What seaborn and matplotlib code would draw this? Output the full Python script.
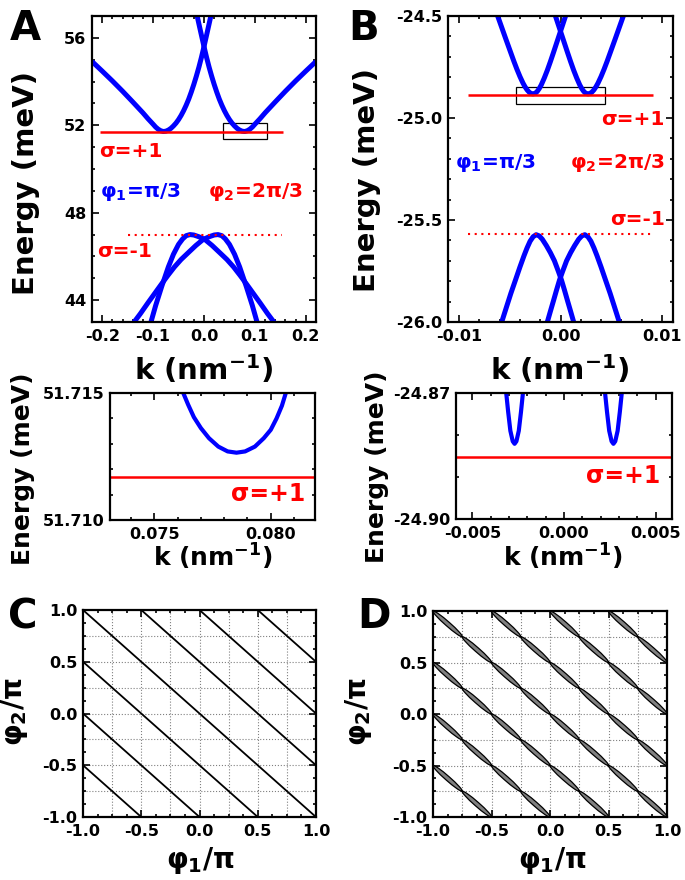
import matplotlib
matplotlib.use("Agg")
import numpy as np
import matplotlib.pyplot as plt
import seaborn as sns
from matplotlib.patches import Rectangle, Ellipse
from matplotlib.ticker import MultipleLocator

# ---------------- data ----------------
# panel A, main (k in nm^-1, E in meV)
kA_up1 = [-0.220, -0.200, -0.180, -0.160, -0.140, -0.120, -0.110, -0.100, -0.095, -0.090,
          -0.085, -0.080, -0.075, -0.070, -0.065, -0.060, -0.055, -0.050, -0.045, -0.040,
          -0.035, -0.030, -0.025, -0.020, -0.015, -0.010, -0.005, 0.000, 0.006, 0.0125, 0.016]
EA_up1 = [54.92, 54.48, 54.03, 53.56, 53.07, 52.57, 52.30, 52.05, 51.92, 51.82,
          51.75, 51.715, 51.73, 51.78, 51.86, 51.97, 52.10, 52.26, 52.45, 52.67,
          52.92, 53.20, 53.52, 53.87, 54.25, 54.66, 55.11, 55.60, 56.22, 56.90, 57.30]
kA_up2 = [-0.016, -0.0125, -0.006, 0.000, 0.005, 0.010, 0.015, 0.020, 0.025, 0.030, 0.035,
          0.040, 0.045, 0.050, 0.055, 0.060, 0.065, 0.070, 0.075, 0.080, 0.085,
          0.090, 0.095, 0.100, 0.110, 0.120, 0.140, 0.160, 0.180, 0.200, 0.220]
EA_up2 = [57.30, 56.90, 56.22, 55.60, 55.11, 54.66, 54.25, 53.87, 53.52, 53.20, 52.92,
          52.67, 52.45, 52.26, 52.10, 51.97, 51.86, 51.78, 51.73, 51.715, 51.75,
          51.82, 51.92, 52.05, 52.30, 52.57, 53.07, 53.56, 54.03, 54.48, 54.92]
kA_lo1 = [-0.106, -0.095, -0.083, -0.070, -0.060, -0.050, -0.042, -0.035, -0.0275, -0.020,
          -0.010, 0.002, 0.016, 0.031, 0.045, 0.058, 0.071, 0.084, 0.097, 0.110,
          0.125, 0.142]
EA_lo1 = [42.85, 43.75, 44.63, 45.52, 46.10, 46.55, 46.80, 46.95, 47.00, 46.98,
          46.90, 46.77, 46.50, 46.17, 45.86, 45.52, 45.13, 44.72, 44.30, 43.88,
          43.38, 42.85]
kA_lo2 = [-0.142, -0.125, -0.110, -0.097, -0.084, -0.071, -0.058, -0.045, -0.031, -0.016,
          -0.002, 0.010, 0.020, 0.0275, 0.035, 0.042, 0.050, 0.060, 0.070, 0.083,
          0.095, 0.106]
EA_lo2 = [42.85, 43.38, 43.88, 44.30, 44.72, 45.13, 45.52, 45.86, 46.17, 46.50,
          46.77, 46.90, 46.98, 47.00, 46.95, 46.80, 46.55, 46.10, 45.52, 44.63,
          43.75, 42.85]
A_sigma_plus = 51.7117
A_sigma_plus_k = [-0.204, 0.155]
A_sigma_minus = 47.0
A_sigma_minus_k = [-0.149, 0.153]
A_box = [0.037, 51.39, 0.124, 52.12]   # k0, E0, k1, E1

# panel A, inset
kAi = [0.07620, 0.07645, 0.07670, 0.07700, 0.07735, 0.07775, 0.07815, 0.07853,
       0.07890, 0.07932, 0.07970, 0.08000, 0.08025, 0.08048, 0.08068]
EAi = [51.71510, 51.71455, 51.71405, 51.71362, 51.71322, 51.71289, 51.71270, 51.71265,
       51.71270, 51.71289, 51.71322, 51.71355, 51.71400, 51.71450, 51.71510]

# panel B, main
kB_up1 = [-0.0063, -0.0058, -0.0054, -0.0050, -0.0046, -0.0043, -0.0040, -0.0037, -0.0035,
          -0.0033, -0.0031, -0.0029, -0.0027, -0.0025, -0.0023, -0.0021, -0.0019, -0.0016,
          -0.0013, -0.0010, -0.0007, -0.0004, -0.0001, 0.0002, 0.0005, 0.0008]
EB_up1 = [-24.486, -24.556, -24.612, -24.667, -24.722, -24.761, -24.797, -24.829, -24.847,
          -24.862, -24.873, -24.880, -24.882, -24.879, -24.870, -24.856, -24.838, -24.804,
          -24.766, -24.724, -24.680, -24.635, -24.590, -24.545, -24.500, -24.455]
kB_up2 = [-0.0008, -0.0005, -0.0002, 0.0001, 0.0004, 0.0007, 0.0010, 0.0013, 0.0016, 0.0019,
          0.0021, 0.0023, 0.0025, 0.0027, 0.0029, 0.0031, 0.0033, 0.0035, 0.0037,
          0.0040, 0.0043, 0.0046, 0.0050, 0.0054, 0.0058, 0.0063]
EB_up2 = [-24.455, -24.500, -24.545, -24.590, -24.635, -24.680, -24.724, -24.766, -24.804,
          -24.838, -24.856, -24.870, -24.879, -24.882, -24.880, -24.873, -24.862, -24.847,
          -24.829, -24.797, -24.761, -24.722, -24.667, -24.612, -24.556, -24.486]
kB_lo1 = [-0.0058, -0.0053, -0.0049, -0.0044, -0.0040, -0.0036, -0.0033, -0.0030, -0.0027,
          -0.0024, -0.0021, -0.0018, -0.0014, -0.0010, -0.0006, -0.0002, 0.0001, 0.0004,
          0.0007, 0.0010, 0.0013]
EB_lo1 = [-26.000, -25.922, -25.860, -25.788, -25.730, -25.675, -25.637, -25.604, -25.582,
          -25.572, -25.578, -25.594, -25.625, -25.660, -25.700, -25.753, -25.795, -25.845,
          -25.897, -25.948, -26.000]
kB_lo2 = [-0.0013, -0.0010, -0.0007, -0.0004, -0.0001, 0.0002, 0.0006, 0.0010, 0.0014,
          0.0018, 0.0021, 0.0024, 0.0027, 0.0030, 0.0033, 0.0036, 0.0040, 0.0044,
          0.0049, 0.0053, 0.0058]
EB_lo2 = [-26.000, -25.948, -25.897, -25.845, -25.795, -25.753, -25.700, -25.660, -25.625,
          -25.594, -25.578, -25.572, -25.582, -25.604, -25.637, -25.675, -25.730, -25.788,
          -25.860, -25.922, -26.000]
B_sigma_plus = -24.886
B_sigma_minus = -25.570
B_line_k = [-0.0091, 0.0091]
B_box = [-0.0044, -24.933, 0.0044, -24.8465]

# panel B, inset
kBi1 = [-0.00318, -0.00305, -0.00293, -0.00280, -0.00270, -0.00260, -0.00247, -0.00235, -0.00222]
EBi1 = [-24.8690, -24.8745, -24.8790, -24.8815, -24.8821, -24.8815, -24.8790, -24.8745, -24.8690]
kBi2 = [0.00222, 0.00235, 0.00247, 0.00260, 0.00270, 0.00280, 0.00293, 0.00305, 0.00318]
EBi2 = [-24.8690, -24.8745, -24.8790, -24.8815, -24.8821, -24.8815, -24.8790, -24.8745, -24.8690]
Bi_sigma_plus = -24.8853

# panels C, D: phi1 + phi2 = const (units of pi)
line_offsets = [-1.5, -1.0, -0.5, 0.0, 0.5, 1.0, 1.5]
pinch_step = 0.25

# tick labels
A_xt = [-0.2, -0.1, 0.0, 0.1, 0.2]
A_xtl = ["-0.2", "-0.1", "0.0", "0.1", "0.2"]
A_yt = [44, 48, 52, 56]
A_ytl = ["44", "48", "52", "56"]
B_xt = [-0.01, 0.0, 0.01]
B_xtl = ["-0.01", "0.00", "0.01"]
B_yt = [-26.0, -25.5, -25.0, -24.5]
B_ytl = ["-26.0", "-25.5", "-25.0", "-24.5"]
Ai_xt = [0.075, 0.080]
Ai_xtl = ["0.075", "0.080"]
Ai_yt = [51.710, 51.715]
Ai_ytl = ["51.710", "51.715"]
Bi_xt = [-0.005, 0.0, 0.005]
Bi_xtl = ["-0.005", "0.000", "0.005"]
Bi_yt = [-24.90, -24.87]
Bi_ytl = ["-24.90", "-24.87"]
CD_t = [-1.0, -0.5, 0.0, 0.5, 1.0]
CD_tl = ["-1.0", "-0.5", "0.0", "0.5", "1.0"]

# ---------------- style ----------------
sns.set_style("ticks")
plt.rcParams.update({
    "font.family": ["DejaVu Sans"],
    "font.weight": "bold",
    "text.color": "black",
    "axes.labelcolor": "black",
    "axes.labelweight": "bold",
    "axes.unicode_minus": False,
    "mathtext.fontset": "dejavusans",
    "mathtext.default": "bf",
    "axes.linewidth": 1.6,
    "axes.edgecolor": "black",
    "xtick.color": "black",
    "ytick.color": "black",
    "xtick.labelsize": 11.5,
    "ytick.labelsize": 11.5,
})

W, H = 685, 880
fig = plt.figure(figsize=(W / 100, H / 100), dpi=100)


def add_ax(x0, y0, x1, y1):
    # pixel box -> figure fraction
    return fig.add_axes([x0 / W, 1 - y1 / H, (x1 - x0) / W, (y1 - y0) / H])


def ftext(px, py, s, **kw):
    fig.text(px / W, 1 - py / H, s, **kw)


def style(ax, xlim, ylim, xt, xtl, yt, ytl, xminor, yminor):
    ax.set_xlim(xlim)
    ax.set_ylim(ylim)
    ax.set_xticks(xt, xtl)
    ax.set_yticks(yt, ytl)
    ax.xaxis.set_minor_locator(MultipleLocator(xminor))
    ax.yaxis.set_minor_locator(MultipleLocator(yminor))
    ax.tick_params(which="both", direction="in", top=True, right=True, width=1.2)
    ax.tick_params(which="major", length=5)
    ax.tick_params(which="minor", length=2.5)
    ax.tick_params(axis="y", pad=4)
    ax.tick_params(axis="x", pad=5)


def curve(ax, k, E, lw):
    sns.lineplot(x=k, y=E, ax=ax, color="blue", lw=lw, sort=False, estimator=None,
                 solid_capstyle="butt", solid_joinstyle="round")


red_dot = (0, (1, 2.2))

# ---------------- A main ----------------
axA = add_ax(92, 16, 316, 322)
for k, E in [(kA_up1, EA_up1), (kA_up2, EA_up2), (kA_lo1, EA_lo1), (kA_lo2, EA_lo2)]:
    curve(axA, k, E, 3.6)
axA.hlines(A_sigma_plus, *A_sigma_plus_k, color="red", lw=1.8)
axA.hlines(A_sigma_minus, *A_sigma_minus_k, color="red", lw=1.5, linestyles=red_dot)
axA.add_patch(Rectangle((A_box[0], A_box[1]), A_box[2] - A_box[0], A_box[3] - A_box[1],
                        fill=False, ec="black", lw=0.9))
style(axA, (-0.22, 0.22), (43, 57), A_xt, A_xtl, A_yt, A_ytl, 0.02, 1)

# ---------------- B main ----------------
axB = add_ax(448, 16, 673, 322)
for k, E in [(kB_up1, EB_up1), (kB_up2, EB_up2), (kB_lo1, EB_lo1), (kB_lo2, EB_lo2)]:
    curve(axB, k, E, 3.6)
axB.hlines(B_sigma_plus, *B_line_k, color="red", lw=1.8)
axB.hlines(B_sigma_minus, *B_line_k, color="red", lw=1.5, linestyles=red_dot)
axB.add_patch(Rectangle((B_box[0], B_box[1]), B_box[2] - B_box[0], B_box[3] - B_box[1],
                        fill=False, ec="black", lw=0.9))
style(axB, (-0.0111, 0.0111), (-26.0, -24.5), B_xt, B_xtl, B_yt, B_ytl, 0.002, 0.1)

# ---------------- A inset ----------------
axAi = add_ax(110, 393, 315, 520)
curve(axAi, kAi, EAi, 3.0)
axAi.axhline(A_sigma_plus, color="red", lw=1.8)
style(axAi, (0.0731, 0.0819), (51.710, 51.715), Ai_xt, Ai_xtl, Ai_yt, Ai_ytl, 0.001, 0.001)

# ---------------- B inset ----------------
axBi = add_ax(456, 393, 672, 519)
curve(axBi, kBi1, EBi1, 3.0)
curve(axBi, kBi2, EBi2, 3.0)
axBi.axhline(Bi_sigma_plus, color="red", lw=1.8)
style(axBi, (-0.0059, 0.0059), (-24.90, -24.87), Bi_xt, Bi_xtl, Bi_yt, Bi_ytl, 0.001, 0.01)

# ---------------- C and D ----------------
axC = add_ax(83, 610, 316, 817)
axD = add_ax(433, 611, 667, 817)
for ax in (axC, axD):
    for g in np.arange(-0.75, 0.76, 0.25):
        ax.axvline(g, color="gray", lw=0.8, ls=":", zorder=0)
        ax.axhline(g, color="gray", lw=0.8, ls=":", zorder=0)
    style(ax, (-1, 1), (-1, 1), CD_t, CD_tl, CD_t, CD_tl, 0.125, 0.125)

for c in line_offsets:
    p1 = [max(-1.0, c - 1.0), min(1.0, c + 1.0)]
    p2 = [c - p for p in p1]
    sns.lineplot(x=p1, y=p2, ax=axC, color="black", lw=1.3, sort=False, estimator=None)
    n = int(round((p1[1] - p1[0]) / pinch_step))
    for i in range(n):
        m1 = p1[0] + (i + 0.5) * pinch_step
        axD.add_patch(Ellipse((m1, c - m1), pinch_step * np.sqrt(2), 0.04, angle=-45,
                              fc="#808080", ec="black", lw=0.9))

# ---------------- texts ----------------
lab = dict(ha="center", va="center", fontweight="bold", color="black")
ftext(26, 183, "Energy (meV)", rotation=90, fontsize=21, **lab)
ftext(204, 370, "k (nm$^{-1}$)", fontsize=21, **lab)
ftext(367, 180, "Energy (meV)", rotation=90, fontsize=21, **lab)
ftext(560, 370, "k (nm$^{-1}$)", fontsize=21, **lab)
ftext(23, 469, "Energy (meV)", rotation=90, fontsize=18, **lab)
ftext(213, 557, "k (nm$^{-1}$)", fontsize=18, **lab)
ftext(377, 467, "Energy (meV)", rotation=90, fontsize=18, **lab)
ftext(563, 557, "k (nm$^{-1}$)", fontsize=18, **lab)
ftext(14, 712, "φ$_2$/π", rotation=90, fontsize=20, **lab)
ftext(200, 860, "φ$_1$/π", fontsize=20, **lab)
ftext(358, 712, "φ$_2$/π", rotation=90, fontsize=20, **lab)
ftext(552, 860, "φ$_1$/π", fontsize=20, **lab)

for px, py, s in [(25, 29, "A"), (364, 29, "B"), (23, 617, "C"), (374, 617, "D")]:
    ftext(px, py, s, fontsize=29, **lab)

note = dict(fontsize=14.5, fontweight="bold", va="baseline")
ftext(99, 157, "σ=+1", color="red", ha="left", **note)
ftext(100, 197, "φ$_1$=π/3", color="blue", ha="left", **note)
ftext(208, 197, "φ$_2$=2π/3", color="red", ha="left", **note)
ftext(97, 257, "σ=-1", color="red", ha="left", **note)
ftext(665, 125, "σ=+1", color="red", ha="right", **note)
ftext(455, 168, "φ$_1$=π/3", color="blue", ha="left", **note)
ftext(665, 168, "φ$_2$=2π/3", color="red", ha="right", **note)
ftext(665, 225, "σ=-1", color="red", ha="right", **note)
ftext(305, 501, "σ=+1", color="red", ha="right", fontsize=17, fontweight="bold", va="baseline")
ftext(660, 483, "σ=+1", color="red", ha="right", fontsize=17, fontweight="bold", va="baseline")

fig.savefig("out.png", dpi=100)
